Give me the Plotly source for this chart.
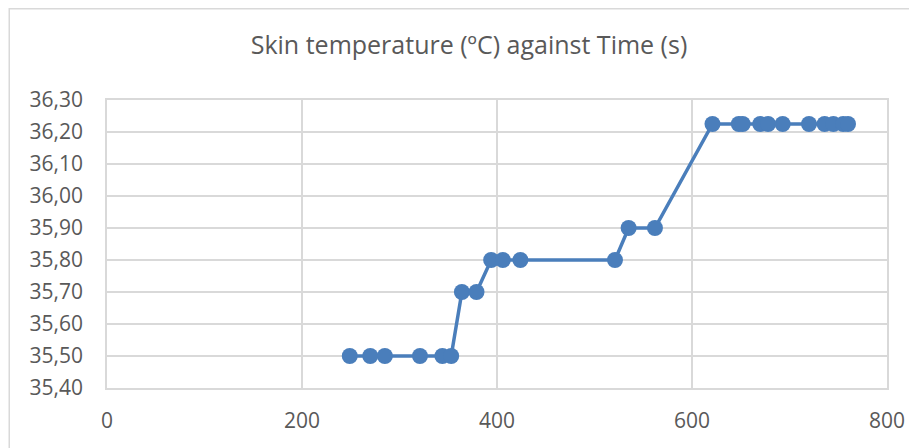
import plotly.graph_objects as go

time_s = [249, 270, 285, 321, 344, 353, 364, 379, 394, 406, 424, 521, 535, 562,
          621, 648, 652, 670, 678, 693, 720, 736, 745, 755, 760]
skin_temp = [35.50, 35.50, 35.50, 35.50, 35.50, 35.50, 35.70, 35.70, 35.80, 35.80, 35.80,
             35.80, 35.90, 35.90,
             36.225, 36.225, 36.225, 36.225, 36.225, 36.225, 36.225, 36.225, 36.225, 36.225, 36.225]

title_text = "Skin temperature (ºC) against Time (s)"
font_family = "Open Sans, Liberation Sans, sans-serif"
text_color = "#595959"
grid_color = "#d9d9d9"

W, H = 909, 440
fig = go.Figure()
fig.add_trace(go.Scatter(
    x=time_s, y=skin_temp, mode="lines+markers",
    line=dict(color="#4a7ebb", width=3.5),
    marker=dict(color="#4a7ebb", size=16),
    showlegend=False,
))

fig.update_layout(
    width=W, height=H,
    margin=dict(l=99, r=26, t=92, b=60),
    paper_bgcolor="white", plot_bgcolor="white",
    separators=",.",
    title=dict(text=title_text, x=461/W, xanchor="center", xref="container",
               y=1-37/H, yanchor="middle", yref="container",
               font=dict(family=font_family, size=25, color=text_color)),
    font=dict(family=font_family, color=text_color),
    shapes=[dict(type="rect", xref="paper", yref="paper",
                 x0=-0.1253, x1=1.1, y0=-0.3, y1=1.317,
                 line=dict(color="#d9d9d9", width=1.5), layer="below")],
)

fig.update_xaxes(range=[0, 800], dtick=200, tick0=0,
                 showgrid=True, gridcolor=grid_color, gridwidth=1.5,
                 showline=True, linecolor=grid_color, linewidth=1.5, mirror=True,
                 zeroline=False, ticks="", ticklabelstandoff=13,
                 tickfont=dict(size=21, color=text_color, family=font_family))
fig.update_yaxes(range=[35.4, 36.3], dtick=0.1, tick0=35.4, tickformat=".2f",
                 showgrid=True, gridcolor=grid_color, gridwidth=1.5,
                 showline=True, linecolor=grid_color, linewidth=1.5, mirror=True,
                 zeroline=False, ticks="", ticklabelstandoff=18,
                 tickfont=dict(size=21, color=text_color, family=font_family))

fig.write_html("out.html")
